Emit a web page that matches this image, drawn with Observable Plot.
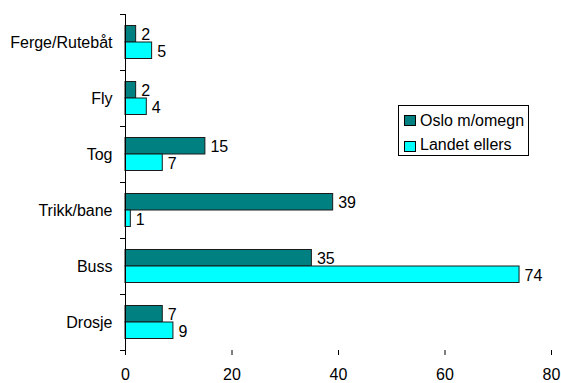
<!DOCTYPE html>
<html>
<head>
<meta charset="utf-8">
<script src="https://cdn.jsdelivr.net/npm/d3@7"></script>
<script src="https://cdn.jsdelivr.net/npm/@observablehq/plot@0.6"></script>
<style>
  body { margin: 0; background: #fff; }
  #wrap { position: relative; width: 561px; height: 383px; font-family: Arial, "Liberation Sans", sans-serif; }
  .legend { position: absolute; left: 398px; top: 105px; width: 129px; height: 49px;
            border: 1px solid #000; background: #fff; font-size: 16px; color: #000; }
  .legend .sw { position: absolute; left: 5px; width: 10px; height: 9px; border: 1px solid #000; }
  .legend .lb { position: absolute; left: 21px; line-height: 16px; white-space: nowrap; }
</style>
</head>
<body>
<div id="wrap"></div>
<script>
// Reisemåter, prosent
const categories = ["Ferge/Rutebåt", "Fly", "Tog", "Trikk/bane", "Buss", "Drosje"];
const series = ["Oslo m/omegn", "Landet ellers"];
const oslo = [2, 2, 15, 39, 35, 7];
const landet = [5, 4, 7, 1, 74, 9];
const xTicks = [0, 20, 40, 60, 80];
const colors = ["#008080", "#00FFFF"];

const rowsOslo = categories.map((c, i) => ({category: c, series: series[0], value: oslo[i]}));
const rowsLandet = categories.map((c, i) => ({category: c, series: series[1], value: landet[i]}));

const W = 561, H = 383;
const margin = {top: 14, right: 10, bottom: 33, left: 125};
const band = (H - margin.top - margin.bottom) / categories.length;

const chart = Plot.plot({
  width: W,
  height: H,
  marginTop: margin.top,
  marginRight: margin.right,
  marginBottom: margin.bottom,
  marginLeft: margin.left,
  style: {fontFamily: "Arial, 'Liberation Sans', sans-serif", fontSize: "16px", color: "#000", background: "#fff"},
  x: {domain: [0, 80]},
  y: {domain: categories, padding: 0},
  color: {domain: series, range: colors},
  marks: [
    Plot.barX(rowsOslo, {x: "value", y: "category", fill: "series", stroke: "#1a1a1a", strokeWidth: 1,
      insetTop: 11.5, insetBottom: 28}),
    Plot.barX(rowsLandet, {x: "value", y: "category", fill: "series", stroke: "#1a1a1a", strokeWidth: 1,
      insetTop: 28, insetBottom: 11.5}),
    Plot.text(rowsOslo, {x: "value", y: "category", text: d => String(d.value), textAnchor: "start", dx: 5, dy: -8, fill: "#000"}),
    Plot.text(rowsLandet, {x: "value", y: "category", text: d => String(d.value), textAnchor: "start", dx: 5, dy: 9, fill: "#000"}),
    Plot.ruleX([0], {stroke: "#000"}),
    Plot.axisX({ticks: xTicks, tickSize: 5, tickPadding: 13.5, label: null, line: true, stroke: "#000"}),
    Plot.axisY({tickSize: 0, tickPadding: 13, label: null}),
    // tick marks between categories
    Plot.axisY({tickSize: 5, tickFormat: () => "", label: null, dy: -band / 2, stroke: "#000"}),
    Plot.axisY([categories[categories.length - 1]], {tickSize: 5, tickFormat: () => "", label: null, dy: band / 2, stroke: "#000"})
  ]
});

const wrap = document.getElementById("wrap");
wrap.appendChild(chart);

// legend box
const legend = document.createElement("div");
legend.className = "legend";
const rowTops = [{sw: 9, lb: 6.5}, {sw: 35, lb: 31}];
series.forEach((s, i) => {
  const sw = document.createElement("div");
  sw.className = "sw";
  sw.style.top = rowTops[i].sw + "px";
  sw.style.background = colors[i];
  const lb = document.createElement("div");
  lb.className = "lb";
  lb.style.top = rowTops[i].lb + "px";
  lb.textContent = s;
  legend.appendChild(sw);
  legend.appendChild(lb);
});
wrap.appendChild(legend);
</script>
</body>
</html>
